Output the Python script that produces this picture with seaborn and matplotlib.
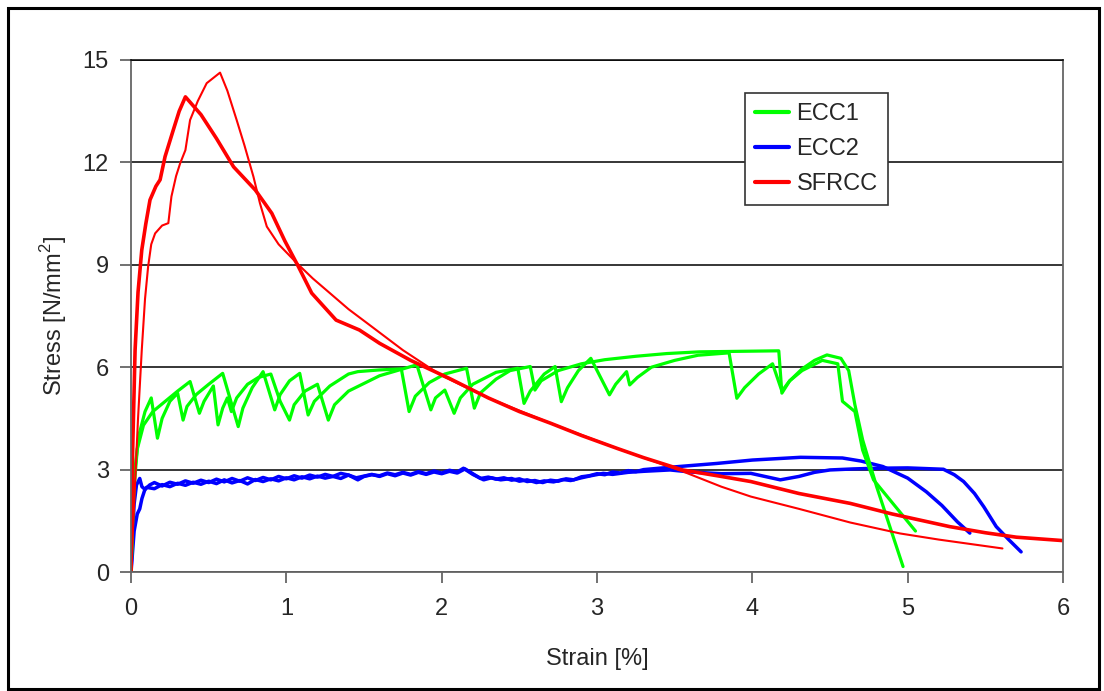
import pandas as pd
import matplotlib
matplotlib.use('Agg')
import matplotlib.pyplot as plt
import seaborn as sns
from matplotlib.patches import Rectangle
from matplotlib.lines import Line2D

sns.set_style('white')
plt.rcParams['font.family'] = ['Liberation Sans', 'DejaVu Sans']
plt.rcParams['mathtext.fontset'] = 'custom'
plt.rcParams['mathtext.rm'] = 'Liberation Sans'

# ECC1 - specimen 1 (ends near zero)
ecc1_a_strain = [0, 0.01, 0.025, 0.05, 0.09, 0.13, 0.17, 0.20, 0.25, 0.30, 0.335, 0.36, 0.42, 0.50, 0.59,
                 0.69, 0.72, 0.78, 0.85, 0.925, 0.96, 1.02, 1.086, 1.14, 1.18, 1.28, 1.40, 1.46, 1.6, 1.74,
                 1.79, 1.83, 1.92, 2.02, 2.16, 2.21, 2.25, 2.35, 2.44, 2.57, 2.60, 2.64, 2.75, 2.90, 3.05,
                 3.25, 3.45, 3.66, 4.17, 4.19, 4.24, 4.32, 4.40, 4.48, 4.57, 4.62, 4.66, 4.71, 4.80, 4.97]
ecc1_a_stress = [0, 1.5, 3.0, 4.0, 4.7, 5.1, 3.92, 4.5, 5.0, 5.24, 4.45, 4.85, 5.2, 5.5, 5.82,
                 4.26, 4.8, 5.4, 5.87, 4.75, 5.2, 5.6, 5.82, 4.6, 5.0, 5.45, 5.8, 5.87, 5.92, 5.95,
                 4.70, 5.15, 5.55, 5.8, 5.97, 4.80, 5.25, 5.65, 5.9, 6.02, 5.33, 5.6, 5.9, 6.1, 6.22,
                 6.32, 6.4, 6.45, 6.48, 5.24, 5.6, 5.95, 6.2, 6.36, 6.26, 5.9, 4.9, 3.87, 2.5, 0.16]

# ECC1 - specimen 2
ecc1_b_strain = [0, 0.015, 0.04, 0.08, 0.14, 0.22, 0.30, 0.38, 0.44, 0.47, 0.53, 0.56, 0.59, 0.62, 0.646,
                 0.68, 0.75, 0.82, 0.90, 0.96, 1.02, 1.05, 1.12, 1.2, 1.27, 1.31, 1.4, 1.6, 1.84, 1.93,
                 1.96, 2.02, 2.08, 2.12, 2.2, 2.35, 2.49, 2.53, 2.57, 2.66, 2.73, 2.77, 2.81, 2.88, 2.96,
                 3.08, 3.12, 3.19, 3.21, 3.26, 3.35, 3.5, 3.65, 3.85, 3.90, 3.95, 4.04, 4.13, 4.19, 4.24,
                 4.32, 4.45, 4.55, 4.58, 4.66, 4.71, 4.78, 5.05]
ecc1_b_stress = [0, 2.2, 3.6, 4.3, 4.7, 5.0, 5.3, 5.58, 4.65, 5.0, 5.45, 4.31, 4.8, 5.1, 4.7,
                 5.1, 5.5, 5.7, 5.8, 5.0, 4.45, 4.9, 5.3, 5.5, 4.45, 4.9, 5.3, 5.75, 6.07, 4.75,
                 5.1, 5.33, 4.65, 5.1, 5.5, 5.85, 5.97, 4.94, 5.3, 5.8, 6.02, 4.99, 5.4, 5.9, 6.26,
                 5.19, 5.5, 5.87, 5.48, 5.7, 6.0, 6.2, 6.35, 6.42, 5.09, 5.4, 5.8, 6.1, 5.3, 5.6,
                 5.9, 6.2, 6.1, 5.0, 4.7, 3.57, 2.7, 1.2]

# ECC2 - specimen 1
ecc2_a_strain = [0, 0.01, 0.02, 0.04, 0.056, 0.07, 0.088, 0.10, 0.15, 0.20, 0.25, 0.30, 0.35, 0.40, 0.45,
                 0.50, 0.55, 0.60, 0.65, 0.70, 0.75, 0.80, 0.85, 0.90, 0.95, 1.00, 1.05, 1.10, 1.15, 1.20,
                 1.25, 1.30, 1.35, 1.40, 1.45, 1.50, 1.55, 1.60, 1.65, 1.70, 1.75, 1.80, 1.85, 1.90, 1.95,
                 2.00, 2.05, 2.10, 2.15, 2.20, 2.25, 2.30, 2.35, 2.40, 2.45, 2.50, 2.55, 2.60, 2.65, 2.70,
                 2.75, 2.80, 2.85, 2.90, 2.95, 3.00, 3.05, 3.10, 3.15, 3.20, 3.25, 3.30, 3.50, 3.77, 4.00,
                 4.31, 4.58, 4.70, 4.84, 5.00, 5.12, 5.22, 5.32, 5.40]
ecc2_a_stress = [0, 0.6, 1.2, 1.7, 1.85, 2.15, 2.4, 2.48, 2.44, 2.56, 2.50, 2.60, 2.54, 2.63, 2.57,
                 2.66, 2.59, 2.70, 2.61, 2.68, 2.58, 2.71, 2.65, 2.73, 2.67, 2.76, 2.70, 2.79, 2.73, 2.81,
                 2.75, 2.80, 2.74, 2.84, 2.76, 2.81, 2.86, 2.80, 2.88, 2.82, 2.90, 2.84, 2.92, 2.86, 2.93,
                 2.88, 2.95, 2.90, 3.02, 2.88, 2.74, 2.78, 2.72, 2.76, 2.69, 2.73, 2.65, 2.68, 2.62, 2.69,
                 2.66, 2.73, 2.70, 2.79, 2.82, 2.88, 2.85, 2.93, 2.90, 2.97, 2.94, 3.00, 3.08, 3.18, 3.28,
                 3.36, 3.34, 3.25, 3.09, 2.75, 2.35, 1.95, 1.47, 1.14]

# ECC2 - specimen 2
ecc2_b_strain = [0, 0.008, 0.02, 0.035, 0.056, 0.07, 0.09, 0.12, 0.15, 0.20, 0.25, 0.30, 0.35, 0.40, 0.45,
                 0.50, 0.55, 0.60, 0.65, 0.70, 0.75, 0.80, 0.85, 0.90, 0.95, 1.00, 1.05, 1.10, 1.15, 1.20,
                 1.25, 1.30, 1.35, 1.40, 1.46, 1.50, 1.55, 1.60, 1.65, 1.70, 1.75, 1.80, 1.85, 1.90, 1.95,
                 2.00, 2.05, 2.10, 2.14, 2.20, 2.27, 2.32, 2.38, 2.45, 2.50, 2.55, 2.61, 2.66, 2.72, 2.78,
                 2.83, 2.90, 2.96, 3.04, 3.10, 3.20, 3.30, 3.47, 3.60, 3.80, 3.99, 4.10, 4.18, 4.30, 4.40,
                 4.50, 4.65, 4.80, 5.00, 5.23, 5.30, 5.36, 5.43, 5.49, 5.57, 5.65, 5.73]
ecc2_b_stress = [0, 1.0, 2.0, 2.55, 2.74, 2.5, 2.42, 2.55, 2.62, 2.52, 2.63, 2.57, 2.67, 2.60, 2.69,
                 2.62, 2.72, 2.64, 2.74, 2.66, 2.76, 2.68, 2.77, 2.70, 2.80, 2.73, 2.82, 2.75, 2.84, 2.78,
                 2.86, 2.80, 2.89, 2.84, 2.70, 2.80, 2.85, 2.82, 2.90, 2.85, 2.92, 2.86, 2.94, 2.88, 2.96,
                 2.90, 2.98, 2.93, 3.04, 2.86, 2.70, 2.76, 2.70, 2.74, 2.66, 2.70, 2.62, 2.67, 2.64, 2.71,
                 2.68, 2.76, 2.82, 2.89, 2.86, 2.92, 2.95, 2.99, 2.93, 2.88, 2.89, 2.78, 2.70, 2.80, 2.92,
                 2.99, 3.02, 3.04, 3.05, 3.01, 2.85, 2.65, 2.30, 1.91, 1.33, 0.95, 0.59]

# SFRCC - specimen 1 (thick)
sfrcc_a_strain = [0, 0.01, 0.026, 0.045, 0.069, 0.095, 0.122, 0.16, 0.187, 0.219, 0.272, 0.31, 0.35, 0.45,
                  0.55, 0.66, 0.80, 0.906, 0.99, 1.077, 1.163, 1.32, 1.47, 1.6, 1.8, 2.05, 2.3, 2.5, 2.70,
                  2.9, 3.13, 3.3, 3.55, 3.8, 3.99, 4.3, 4.63, 4.9, 5.27, 5.5, 5.70, 6.0]
sfrcc_a_stress = [0, 3.5, 6.5, 8.2, 9.43, 10.2, 10.9, 11.3, 11.49, 12.17, 12.95, 13.5, 13.92, 13.4,
                  12.7, 11.87, 11.19, 10.51, 9.7, 8.95, 8.17, 7.38, 7.09, 6.7, 6.2, 5.67, 5.1, 4.7, 4.36,
                  4.0, 3.62, 3.35, 2.99, 2.8, 2.65, 2.3, 2.01, 1.7, 1.33, 1.15, 1.02, 0.92]

# SFRCC - specimen 2 (thin)
sfrcc_b_strain = [0, 0.02, 0.045, 0.069, 0.09, 0.11, 0.13, 0.155, 0.2, 0.24, 0.26, 0.29, 0.316, 0.35, 0.38,
                  0.43, 0.487, 0.573, 0.62, 0.68, 0.73, 0.788, 0.83, 0.874, 0.95, 1.067, 1.17, 1.28, 1.40,
                  1.52, 1.75, 2.0, 2.3, 2.7, 3.13, 3.55, 3.8, 3.99, 4.3, 4.63, 4.95, 5.2, 5.61]
sfrcc_b_stress = [0, 2.0, 4.5, 6.5, 8.0, 8.95, 9.6, 9.92, 10.15, 10.22, 11.0, 11.6, 11.97, 12.36, 13.24,
                  13.8, 14.32, 14.63, 14.1, 13.24, 12.5, 11.58, 10.8, 10.12, 9.6, 9.05, 8.6, 8.17, 7.7,
                  7.29, 6.5, 5.75, 5.1, 4.36, 3.62, 2.95, 2.5, 2.21, 1.85, 1.45, 1.13, 0.95, 0.69]

labels = ['ECC1', 'ECC2', 'SFRCC']
colors = {'ECC1': '#00ff00', 'ECC2': '#0000ff', 'SFRCC': '#ff0000'}


def plot_stress_strain():
    curves = [
        ('ECC2', ecc2_a_strain, ecc2_a_stress, 2.5),
        ('ECC2', ecc2_b_strain, ecc2_b_stress, 2.5),
        ('ECC1', ecc1_a_strain, ecc1_a_stress, 2.3),
        ('ECC1', ecc1_b_strain, ecc1_b_stress, 2.3),
        ('SFRCC', sfrcc_b_strain, sfrcc_b_stress, 1.5),
        ('SFRCC', sfrcc_a_strain, sfrcc_a_stress, 2.6),
    ]

    fig = plt.figure(figsize=(11.04, 6.91), dpi=100)
    ax = fig.add_axes([0.1187, 0.1722, 0.8442, 0.741])

    for name, strain, stress, lw in curves:
        df = pd.DataFrame({'strain': strain, 'stress': stress})
        sns.lineplot(data=df, x='strain', y='stress', sort=False, estimator=None,
                     color=colors[name], lw=lw, ax=ax, legend=False)

    ax.set_xlim(0, 6)
    ax.set_ylim(0, 15)
    ax.set_xticks(range(0, 7))
    ax.set_yticks(range(0, 16, 3))
    ax.yaxis.grid(True, color='black', lw=1.1)
    ax.xaxis.grid(False)
    ax.set_axisbelow(True)

    for side in ['left', 'bottom', 'right']:
        ax.spines[side].set_color('#666666')
        ax.spines[side].set_linewidth(1.3)
    ax.spines['top'].set_color('black')
    ax.spines['top'].set_linewidth(1.1)
    ax.tick_params(direction='out', length=8, width=1.3, color='#666666',
                   labelsize=17, bottom=True, left=True)
    ax.tick_params(axis='x', pad=11)
    ax.tick_params(axis='y', pad=8)

    ax.set_xlabel('Strain [%]', fontsize=17, labelpad=20)
    ax.set_ylabel('Stress [N/mm$^2$]', fontsize=17, labelpad=10)

    handles = [Line2D([], [], color=colors[n], lw=3) for n in labels]
    leg = ax.legend(handles, labels, loc='upper left', bbox_to_anchor=(0.659, 0.9355),
                    fontsize=17, frameon=True, fancybox=False, framealpha=1,
                    edgecolor='#333333', borderaxespad=0, handlelength=1.45,
                    handletextpad=0.3, labelspacing=0.55, borderpad=0.42)
    leg.get_frame().set_linewidth(1.2)

    fig.add_artist(Rectangle((0.0075, 0.003), 0.988, 0.986, transform=fig.transFigure,
                             fill=False, lw=2.2, edgecolor='black'))

    fig.savefig('out.png', dpi=100)


if __name__ == '__main__':
    plot_stress_strain()
